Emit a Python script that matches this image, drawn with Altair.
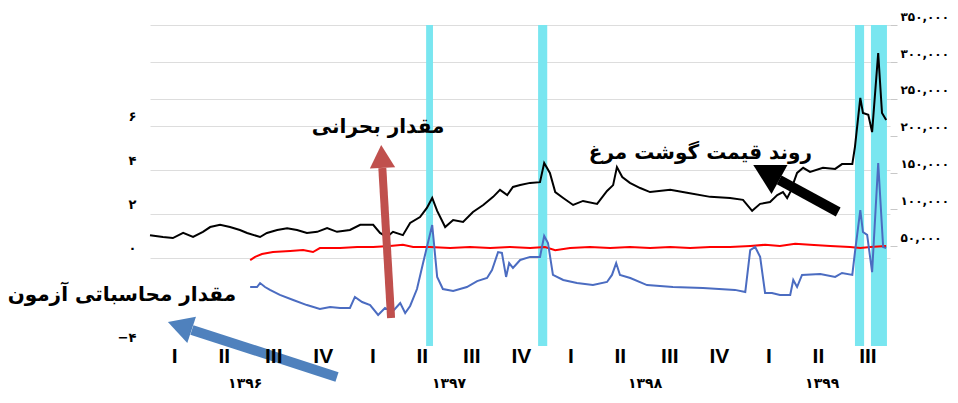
import altair as alt
import pandas as pd

# ---------------- data ----------------
# time axis: weeks from the start of 1396 (13 weeks per quarter)
black_week = [0, 3.4, 6, 8.7, 11.3, 13.9, 15.8, 18.4, 21, 23.6, 25.5, 28.9, 30.7, 33.4, 36, 38.6,
              41.2, 43.9, 46.5, 49.1, 52.5, 55.2, 58.6, 60.4, 62.2, 63.8, 66.4, 68.3, 70.9, 72.7,
              74.1, 75.4, 77.5, 79.6, 82.2, 84.8, 87.5, 90.1, 91.9, 93.8, 95.3, 97.2, 99.8, 102.4,
              103.5, 105, 106.4, 108.5, 111.1, 113.7, 117.4, 120, 121.6, 122.6, 124, 126, 128.7,
              131.3, 136.6, 141, 147.1, 152.3, 155.7, 158.1, 160.2, 162.8, 164.7, 166.2, 167.3,
              168.1, 169.9, 171.5, 173.3, 176.7, 179.9, 181.7, 184.4, 185.1, 186.5, 187.2, 188.6,
              189.6, 191.2, 192.2, 193.3]
black_price = [65000, 62500, 61000, 68000, 62500, 69500, 76000, 79000, 76000, 72000, 68000, 62500,
               68000, 72000, 74500, 72000, 68000, 69500, 74500, 69500, 72000, 79000, 79000, 68000,
               62500, 69500, 65000, 81500, 89500, 102000, 115500, 98000, 76000, 85500, 83000, 96500,
               106000, 117000, 126500, 119500, 130500, 133000, 136000, 137000, 163000, 149500,
               123500, 115500, 106000, 111500, 107500, 125000, 133000, 157500, 144000, 136000,
               129000, 123500, 126500, 122500, 117000, 115500, 113000, 98000, 107500, 110000,
               119500, 123500, 115500, 123500, 149500, 156500, 151000, 156500, 155000, 161500,
               161500, 185000, 251500, 231000, 228500, 205000, 312500, 231000, 221500]

red_week = [26.3, 27.6, 29.4, 32.3, 36.8, 40.2, 42.8, 44.6, 49.9, 54.4, 58.6, 63, 66.4, 69.1, 73.5,
            78.8, 84, 89.3, 94.5, 99.8, 103.7, 106.4, 110.3, 115.5, 120.8, 126, 131.3, 136.6,
            141.8, 147.1, 152.3, 157.6, 161.5, 165.4, 169.4, 173.3, 178.6, 183.8, 186.5, 189.1, 193.3]
red_value = [-0.1, 0.05, 0.18, 0.27, 0.32, 0.36, 0.27, 0.45, 0.45, 0.5, 0.5, 0.55, 0.6, 0.5, 0.5,
             0.45, 0.5, 0.45, 0.5, 0.45, 0.5, 0.35, 0.45, 0.5, 0.45, 0.5, 0.45, 0.5, 0.45, 0.5,
             0.5, 0.55, 0.6, 0.55, 0.65, 0.6, 0.55, 0.5, 0.45, 0.5, 0.55]

blue_week = [26.3, 28.1, 28.9, 30.2, 31.5, 34.1, 37.6, 41.2, 44.6, 47.3, 49.9, 52.5, 53.8, 55.7,
             57.8, 59.9, 61.7, 63.6, 65.7, 67, 68.3, 70.1, 71.7, 74.1, 75.4, 76.9, 79.6, 83.2,
             85.9, 88.5, 89.8, 91.4, 92.4, 93.5, 94.3, 95.3, 97.2, 99.8, 102.4, 103.5, 104.5,
             105.8, 108.5, 112.1, 116.3, 120, 121.3, 122.4, 123.4, 126.1, 130.5, 137.3, 145.2,
             153.6, 156.3, 157.6, 158.9, 160.2, 161.5, 163.3, 165.4, 168.1, 168.9, 169.9, 171.2,
             176, 179.9, 181.7, 184.4, 185.1, 186.5, 187.2, 188.3, 189.6, 191.2, 192.5, 193.3]
blue_value = [-1.32, -1.32, -1.14, -1.32, -1.45, -1.68, -1.91, -2.14, -2.32, -2.23, -2.27, -2.27,
              -1.77, -2.0, -2.14, -2.59, -2.27, -2.45, -2.05, -2.5, -2.18, -1.41, -0.23, 1.5,
              -0.86, -1.41, -1.5, -1.32, -1.05, -0.91, -0.55, 0.27, 0.23, -0.86, -0.23, -0.45,
              -0.09, 0.05, 0.05, 1.0, 0.68, -0.77, -1.0, -1.14, -1.23, -1.09, -0.77, -0.23, -0.77,
              -0.91, -1.23, -1.32, -1.36, -1.45, -1.55, 0.36, 0.5, 0.05, -1.59, -1.59, -1.68,
              -1.68, -1.0, -1.32, -0.77, -0.73, -0.86, -0.68, -0.77, 0.27, 2.18, 1.18, 1.05,
              -0.64, 4.32, 0.5, 0.45]

band_start = [72.5, 101.9, 185.1, 189.3]
band_end = [74.3, 104.3, 187.5, 193.5]

quarter_labels = ["I", "II", "III", "IV"] * 3 + ["I", "II", "III"]
quarter_centers = [6.5 + 13 * q for q in range(15)]
year_labels = ["۱۳۹۶", "۱۳۹۷", "۱۳۹۸", "۱۳۹۹"]
year_centers = [25, 78.5, 130, 176.5]

left_ticks = [-4, 0, 2, 4, 6]
right_ticks = [50000, 100000, 150000, 200000, 250000, 300000, 350000]

# annotations (in weeks / left-axis units)
ann_text = ["مقدار بحرانی", "روند قیمت گوشت مرغ", "مقدار محاسباتی آزمون"]
ann_week = [59.9, 144.5, -7.4]
ann_value = [5.95, 4.77, -1.68]

arrow_color = ["#C0504D", "#000000", "#4F81BD"]
arrow_tail_week = [63.3, 180.7, 49.1]
arrow_tail_value = [-2.73, 2.09, -5.41]
arrow_base_week = [61.0, 165.2, 11.0]
arrow_base_value = [4.09, 3.55, -3.27]
arrow_tip_week = [60.7, 158.4, 4.7]
arrow_tip_value = [5.14, 4.23, -2.91]
arrow_angle = [356.7, 299, 288.4]
arrow_width = [8, 10, 10]
arrow_head = [2116, 3600, 2500]

# ---------------- tables ----------------
df_black = pd.DataFrame({"week": black_week, "price": black_price})
df_red = pd.DataFrame({"week": red_week, "value": red_value})
df_blue = pd.DataFrame({"week": blue_week, "value": blue_value})
df_bands = pd.DataFrame({"start": band_start, "end": band_end})
df_years = pd.DataFrame({"week": year_centers, "label": year_labels})
df_quarters = pd.DataFrame({"week": quarter_centers, "label": quarter_labels})
df_ann = pd.DataFrame({"week": ann_week, "value": ann_value, "text": ann_text})
df_arrow = pd.DataFrame({
    "color": arrow_color, "tw": arrow_tail_week, "tv": arrow_tail_value,
    "bw": arrow_base_week, "bv": arrow_base_value, "pw": arrow_tip_week,
    "pv": arrow_tip_value, "angle": arrow_angle, "sw": arrow_width, "size": arrow_head,
})

W, H = 740, 321
FA = "DejaVu Sans"


def fa_digits(expr):
    for d, f in zip("0123456789", "۰۱۲۳۴۵۶۷۸۹"):
        expr = f"replace({expr}, regexp('{d}', 'g'), '{f}')"
    return expr


xscale = alt.Scale(domain=[0, 194.3], nice=False, zero=False)
left_scale = alt.Scale(domain=[-4, 10.59], nice=False, zero=False)
right_scale = alt.Scale(domain=[-85600, 350500], nice=False, zero=False)

left_axis = alt.Axis(
    orient="left", values=left_ticks, title=None, domain=False, ticks=False,
    labelExpr=fa_digits("format(datum.value, 'd')"),
    labelFont=FA, labelFontSize=13, labelFontWeight="bold", labelColor="#000000",
    labelPadding=14, labelOffset=-9,
    grid=True, gridColor="#dddddd", gridWidth=1.2,
    gridOpacity={"condition": {"test": "datum.value === -4", "value": 0}, "value": 1},
)

right_axis = alt.Axis(
    orient="right", values=right_ticks, title=None, domain=False, ticks=True,
    tickColor="#c8c8c8", tickSize=7, labelPadding=3,
    labelExpr=fa_digits("format(datum.value, ',')"),
    labelFont=FA, labelFontSize=12, labelFontWeight="bold", labelColor="#000000",
    labelOffset=-9,
    grid=True, gridColor="#dddddd", gridWidth=1.2,
    gridOpacity={"condition": {"test": "datum.value >= 250000", "value": 1}, "value": 0},
)

# ---------------- left group ----------------
bands = alt.Chart(df_bands).mark_rect(color="#79E6F0").encode(
    x=alt.X("start:Q", scale=xscale, axis=None),
    x2="end:Q",
    y=alt.value(0),
    y2=alt.value(H),
)

red = alt.Chart(df_red).mark_line(color="#FF0000", strokeWidth=2).encode(
    x=alt.X("week:Q", scale=xscale, axis=None),
    y=alt.Y("value:Q", scale=left_scale, axis=left_axis),
)

blue = alt.Chart(df_blue).mark_line(color="#4B6CC1", strokeWidth=2).encode(
    x=alt.X("week:Q", scale=xscale, axis=None),
    y=alt.Y("value:Q", scale=left_scale, axis=left_axis),
)

left_group = alt.layer(bands, red, blue)

# ---------------- right group ----------------
black = alt.Chart(df_black).mark_line(color="#000000", strokeWidth=2).encode(
    x=alt.X("week:Q", scale=xscale, axis=None),
    y=alt.Y("price:Q", scale=right_scale, axis=right_axis),
)
right_group = alt.layer(black)

# ---------------- annotations ----------------
shafts = alt.Chart(df_arrow).mark_rule(strokeCap="butt").encode(
    x=alt.X("tw:Q", scale=xscale, axis=None),
    y=alt.Y("tv:Q", scale=left_scale, axis=None),
    x2="bw:Q",
    y2="bv:Q",
    color=alt.Color("color:N", scale=None),
    strokeWidth=alt.StrokeWidth("sw:Q", scale=None),
)

heads = alt.Chart(df_arrow).mark_point(
    shape="M0,0 L0.55,1 L-0.55,1 Z", filled=True, opacity=1, strokeWidth=0
).encode(
    x=alt.X("pw:Q", scale=xscale, axis=None),
    y=alt.Y("pv:Q", scale=left_scale, axis=None),
    color=alt.Color("color:N", scale=None),
    angle=alt.Angle("angle:Q", scale=None),
    size=alt.Size("size:Q", scale=None),
)

labels = alt.Chart(df_ann).mark_text(
    font=FA, fontSize=20, fontWeight="bold", color="#000000", align="center", baseline="middle"
).encode(
    x=alt.X("week:Q", scale=xscale, axis=None),
    y=alt.Y("value:Q", scale=left_scale, axis=None),
    text="text:N",
)

quarters = alt.Chart(df_quarters).mark_text(
    font="Liberation Sans", fontSize=21, fontWeight="bold", color="#000000",
    align="center", baseline="middle"
).encode(
    x=alt.X("week:Q", scale=xscale, axis=None),
    y=alt.value(H + 11),
    text="label:N",
)

years = alt.Chart(df_years).mark_text(
    font=FA, fontSize=14, fontWeight="bold", color="#000000", align="center", baseline="middle"
).encode(
    x=alt.X("week:Q", scale=xscale, axis=None),
    y=alt.value(H + 38),
    text="label:N",
)

annot_group = alt.layer(shafts, heads, labels, quarters, years)

chart = alt.layer(left_group, right_group, annot_group).resolve_scale(
    y="independent"
).properties(
    width=W, height=H,
    autosize=alt.AutoSizeParams(type="none"),
    padding={"left": 142, "top": 17, "right": 60, "bottom": 48},
).configure_view(stroke=None)

chart.save("out.html", embed_options={"renderer": "svg", "actions": False})
